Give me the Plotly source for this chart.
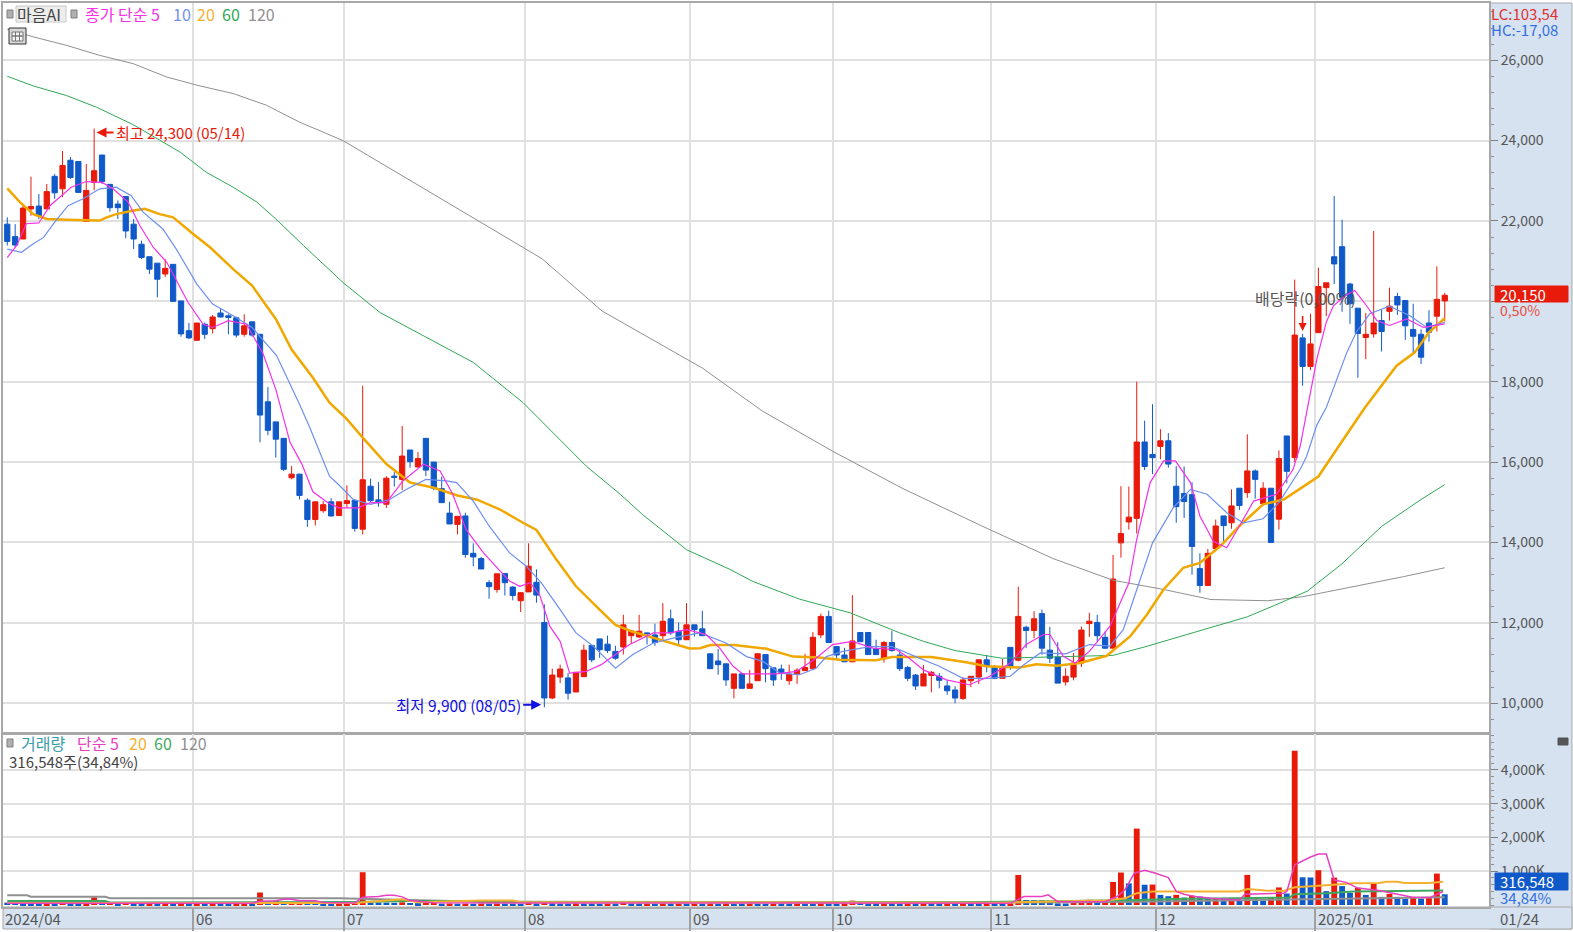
import plotly.graph_objects as go

W, H = 1573, 932
FONT = "Noto Sans CJK KR"
RED = "#E81A0A"
BLUE = "#1059C8"

opens = [21920,21610,21550,22300,22370,22300,23110,22800,23510,23480,
         21990,22960,23640,22910,22420,22610,21920,21420,21110,20950,
         20680,20920,20010,19270,19030,19430,19320,19710,19640,19590,
         19180,19490,19180,17500,17000,16590,15610,15700,15050,14570,
         14790,15010,14670,14970,15050,14330,15400,15060,14950,15650,
         15570,16300,15880,16590,16000,15340,14730,14450,14660,13730,
         13600,13000,12830,13230,12890,12550,12770,13010,12010,10130,
         10650,10630,10280,10660,11440,11600,11470,11290,11400,11680,
         11650,11750,11700,11680,12100,11790,11580,11950,11850,11230,
         11050,10980,10370,10730,10370,10560,11210,10880,10850,10560,
         10720,10810,10860,11700,12160,11410,11200,11030,11760,11760,
         11360,11110,11510,11200,10890,10700,10430,10690,10670,10430,
         10330,10120,10560,10650,11080,10880,10620,11390,11070,11890,
         11810,12230,11320,11150,10530,10650,11000,11980,12010,11640,
         11370,13990,14510,14600,16500,16190,16390,16530,15400,15220,
         15190,13350,12930,13850,14660,14490,15350,15240,15780,14970,
         15350,14580,16650,16110,19090,18380,19220,20340,21110,21360,
         20430,19830,19100,19190,19520,19750,20120,20020,19300,19180,
         19460,19630,20010]
highs = [22090,21920,22420,23100,22670,22920,23170,23740,23590,23480,
         23420,24300,23640,22910,22510,22610,22050,21510,21110,20950,
         21050,20920,20010,19460,19460,19470,19660,19820,19680,19620,
         19680,19490,19180,17870,17000,16590,15900,15710,15100,15010,
         15030,15100,15010,15420,15070,17900,15590,15500,15650,15750,
         16900,16300,16250,16590,16000,15640,15010,14650,14740,13980,
         13640,13060,13220,13230,12910,12760,13980,13330,12460,10860,
         10960,10750,10770,11460,11440,11600,11680,11430,12200,11800,
         12200,11760,11980,12490,12330,12010,12490,11950,12300,11230,
         11350,10980,10730,10760,10830,11250,11210,10880,10960,10960,
         10870,11230,11770,12230,12300,11410,11380,12690,11760,11760,
         11580,11550,11800,11330,10930,10730,10950,10800,10750,10570,
         10420,10650,10670,11080,11200,10950,11100,11390,12900,11930,
         12290,12330,11900,11520,10870,11250,11910,12250,12200,11790,
         13690,15400,15390,18000,17030,17440,16820,16720,15900,15890,
         15500,13730,13840,14570,14660,15320,15350,16690,15820,15500,
         15350,16290,16650,20540,19190,19690,20840,20460,22620,22030,
         20460,19830,19710,21750,19790,20340,20210,20020,19940,19300,
         19780,20870,20210]
lows = [21390,21340,21550,22130,22050,22300,22550,22590,23050,22710,
        21990,22760,22920,22230,22050,21570,21300,21050,20680,20100,
        20600,20000,19120,19060,19030,19060,19200,19600,19180,19100,
        19120,19120,16490,16670,16110,15780,15570,15070,14390,14420,
        14740,14640,14670,14860,14270,14200,14990,14890,14860,15390,
        15300,15860,15860,15650,15300,14990,14460,14200,13620,13410,
        13340,12600,12750,12680,12560,12270,12770,12500,9900,10100,
        10500,10090,10280,10660,11020,11130,11250,11080,11210,11480,
        11620,11460,11430,11540,11700,11450,11580,11660,11680,10860,
        10710,10430,10120,10370,10370,10560,10520,10430,10580,10460,
        10480,10810,10860,11620,11500,11100,11030,11030,11530,11210,
        11210,11010,11280,10800,10550,10330,10430,10270,10370,10210,
        10000,10080,10400,10480,10770,10600,10620,10830,11040,11370,
        11620,11210,11000,10500,10440,10570,10900,11650,11540,11350,
        11370,13620,14320,14220,15800,15700,16070,15860,14490,14610,
        13200,12750,12930,13850,14030,14340,14810,15110,15090,14920,
        13990,14320,15470,16000,17900,18290,19220,19630,20430,19740,
        19440,18100,18560,19100,18750,19520,19660,19040,18690,18440,
        19000,19250,19500]
closes = [21490,21400,22320,22360,22130,22730,22700,23380,23080,22710,
          22760,23250,22980,22330,22330,21750,21550,21090,20800,20550,
          20820,20000,19190,19090,19460,19180,19610,19610,19600,19160,
          19390,19160,17170,16790,16570,15820,15700,15170,14570,15010,
          14940,14660,15010,15040,14350,15560,15040,14990,15600,15620,
          16150,16010,16090,15800,15350,14990,14460,14650,13700,13640,
          13340,12900,13220,13000,12680,12750,13410,12690,10130,10700,
          10850,10250,10770,11320,11080,11330,11310,11120,11950,11800,
          11790,11730,11510,12040,11750,11580,11950,11830,11680,10860,
          10960,10580,10730,10370,10480,11230,10860,10580,10750,10720,
          10820,10890,11640,12160,11510,11200,11030,11550,11530,11210,
          11210,11510,11310,10860,10620,10430,10730,10770,10570,10310,
          10130,10580,10670,11080,10910,10620,10880,10900,12160,11810,
          12100,11370,11120,10500,10670,11000,11820,12040,11680,11370,
          13090,14220,14630,16500,15890,16110,16530,15950,14890,15020,
          13900,12930,13730,14410,14420,14910,14920,15780,15570,15350,
          14000,16090,15770,19160,18380,18940,20370,20460,20930,20100,
          19940,19200,19180,19460,19250,19880,19910,19390,19130,18610,
          19230,20050,20150]

ma5_x = [0,1.2,2.4,4,5.4,6.9,8.1,10,12,13.4,15.3,16.8,18.5,20.2,21.4,22.9,24.8,26,28,30.3,
         32.4,34,35.8,37.3,38.7,40.6,42,44.4,46,48,50.1,52.7,54.8,56.4,58.1,60.3,62.2,63.6,64.9,66.2,
         67.4,68.7,70,71.2,73.3,75.2,77,78.8,81.8,83.9,86,88.5,90.2,91.9,93.1,94.8,97.4,99.9,102.4,104.5,
         107,109.6,112.6,114.2,116,118.9,121.8,124.4,127,129,131.2,132,133.7,135.2,137,139.6,142,143,144.7,146.4,
         147.9,149.8,151,152.7,154.4,156,157.8,160.7,162.8,163.7,164.7,165.8,167,167.9,169.4,170.6,172.1,173.4,175,177.2,
         179.3,182]
ma5 = [21090,21390,21930,21950,22380,22630,22840,22980,22960,22800,22470,21880,21340,20970,20510,19970,19430,19350,19520,19430,
       18690,17810,16490,15950,15260,14990,14860,14860,14990,14990,15530,15950,15780,15200,14320,13740,13330,13040,12910,13000,
       12700,11910,11540,10750,10790,10960,11210,11460,11750,11750,11830,11710,11370,10920,10730,10730,10730,10790,11120,11460,
       11540,11370,11330,11120,10830,10580,10460,10670,11000,11460,11710,11710,11170,11000,11290,11910,12990,14080,15490,16030,
       16030,15490,14660,14030,13870,14410,15030,15200,15820,16400,17400,18560,19480,19890,20140,20270,19890,19520,19400,19560,
       19350,19440]
ma10_x = [0,1.8,3.3,4.6,6,7.7,9.6,11.7,13.8,15.7,17.2,19.7,21.4,24,26,28.6,31,34.1,37,38.3,
          40.8,42.1,43.8,46,48.4,50.5,53,55.6,56.9,59,61,63.6,65.7,67.6,70,72,74.2,77,79.2,81.8,
          84.7,87.7,91,93.6,95.7,97.8,100.3,102.4,103.7,105.8,109.2,112,115,118,121,124.4,127,128.7,130.8,134,
          137,139.6,141.3,143,145,147.6,149.8,151.9,154.4,156.5,159,161,163.7,164.5,165.8,167,168.3,169.6,170.8,172.5,
          175,177.6,179.7,182]
ma10 = [21300,21220,21430,21590,21970,22380,22550,22800,22840,22630,22220,21800,21300,20430,19930,19640,19350,18650,17440,16860,
        15650,15410,15070,14950,15070,15320,15570,15530,15490,15030,14410,13740,13410,13000,12330,11750,11420,10870,11210,11500,
        11640,11750,11500,11160,11040,10750,10710,10870,11160,11290,11410,11410,11160,10920,10620,10620,10670,10960,11250,11230,
        11460,11420,11830,12830,13990,14860,15320,15200,14740,14490,14590,14990,15820,16140,16920,17360,18070,18730,19230,19690,
        19880,19640,19350,19480]
ma20_x = [0,1.6,3.3,5,7.5,11.7,12.6,13.8,16,17.4,19.3,21,23.5,25.7,28.6,31,34,36,38.7,40.8,
          43,45,48,51,54,57,59.4,62.4,65.3,67,69.5,72,75,77,79,81.8,84.3,86.4,87.7,89,
          92,96,99.5,102.8,105.4,110,112,117,121.4,124,128.2,130.3,132.9,135.8,139.2,142.2,144.3,146.4,148.9,151,
          153.6,156,159,161.6,163.7,166,169,171.9,175.9,178.2,180,182]
ma20 = [22810,22470,22170,22050,22030,22010,22090,22170,22260,22300,22170,22090,21680,21340,20800,20390,19560,18800,18100,17480,
        17070,16610,15950,15490,15360,15170,15070,14820,14490,14310,13580,12910,12330,11950,11790,11620,11480,11360,11370,11450,
        11450,11360,11160,11140,11080,11070,11150,11150,11020,10920,10890,10970,10930,11000,11180,11670,12210,12830,13370,13490,
        13910,14410,14950,15070,15340,15640,16520,17360,18400,18730,19230,19580]
ma60_x = [0,3.3,7.5,11.3,16,21.9,25.2,28.6,31.6,34,37.5,42.5,47.2,53.5,59,65.3,69.5,73.3,77.6,80.4,
          86,91.5,94.4,100.3,106.7,113,116,120,125.9,140,144,150,157,160.4,164.6,169,174,179,182]
ma60 = [25600,25360,25120,24830,24390,23710,23210,22840,22470,22050,21390,20470,19720,19060,18480,17480,16650,15900,15200,14700,
        13820,13330,13030,12590,12250,11750,11540,11310,11120,11190,11400,11750,12150,12430,12790,13470,14400,15070,15440]
ma120_x = [0,3.3,7.5,11.7,16,20.2,24.4,28.6,32.8,37,42.5,49.9,60,67.7,75.3,88,95.6,104.5,113.4,123.5,
           132.4,140,146.4,152.4,159.6,164,170.5,176.8,182]
ma120 = [26770,26580,26370,26120,25910,25580,25360,25170,24880,24460,24000,23130,21960,21060,19760,18340,17270,16270,15340,14400,
         13600,13060,12830,12580,12550,12650,12900,13150,13370]

volumes = [70,60,50,45,40,42,38,60,50,48,
           55,230,65,70,40,70,40,35,40,38,
           42,36,38,36,40,36,40,38,36,42,
           44,40,370,90,130,85,90,95,70,60,
           50,45,50,55,70,970,75,72,70,65,
           80,60,55,65,70,40,45,38,42,36,
           40,35,42,38,36,35,120,40,115,50,
           40,38,44,40,36,34,38,36,110,40,
           36,40,34,42,36,40,36,40,34,38,
           34,40,36,34,40,36,34,40,38,36,
           42,38,36,42,38,36,50,130,60,38,
           34,42,36,34,40,36,42,38,34,40,
           36,42,38,34,40,36,34,45,890,150,
           145,140,80,50,45,100,150,155,60,90,
           680,960,640,2260,600,605,300,260,300,220,
           280,250,190,200,190,200,130,890,200,130,
           210,520,340,4560,820,815,1030,410,810,560,
           360,510,300,640,240,330,240,180,240,190,
           220,930,317]

vma5_x = [0,31,32,34,35,36,37,39,40,44,45,47,48,49,50,51,54,65,66,120,127,128.7,131,131.8,133,139,139.5,140.5,141.5,142.7,144,145.4,147,148,149,150.3,152.4,156,156.7,160,161.6,162,163,165,166,167,168,169.5,171,173.7,175.8,177.9,180.1,181.8]
vma5 = [50,50,110,125,170,170,125,125,75,60,230,250,290,290,240,130,65,60,70,50,50,250,250,300,100,100,150,250,445,940,1030,940,810,400,320,250,200,150,320,330,350,400,1190,1420,1510,1510,740,670,500,430,320,230,220,400]
vma20_x = [0,44,50,52,60,64,65,125,139,141.6,143,145,156,157,159.3,161.6,163,165,167,170.4,173.7,174.6,176,176.9,180,181.8]
vma20 = [60,60,168,80,130,130,90,70,130,200,350,400,400,470,430,415,525,545,585,640,650,690,690,650,650,690]
vma60_x = [0,12.4,13,42,44,51,59,60,107,121.5,143.4,147.6,155.5,162.3,163,167.2,170.4,181.8]
vma60 = [118,118,75,75,90,118,118,85,75,80,150,180,200,220,320,350,400,430]
vma120_x = [0,2.5,3,12.4,13,42,60,130,143,163,170,182]
vma120 = [287,287,245,245,198,198,100,75,100,170,200,230]

month_pos = [23.5, 42.6, 65.5, 86.5, 104.5, 124.5, 145.5, 165.6]
month_labels = ["06", "07", "08", "09", "10", "11", "12", "2025/01"]
price_ticks = [10000, 12000, 14000, 16000, 18000, 20000, 22000, 24000, 26000]
price_labels = ["10,000", "12,000", "14,000", "16,000", "18,000", "", "22,000", "24,000", "26,000"]
volume_ticks = [1000, 2000, 3000, 4000]

idx = list(range(len(closes)))
vol_colors = [BLUE] + [RED if volumes[i] > volumes[i - 1] else BLUE for i in idx[1:]]


def px(x):
    return x / W


def py(y):
    return 1 - y / H


def label(text, x, y, color, size=14, anchor="left"):
    return dict(text=text, x=px(x - 2), y=py(y), xref="paper", yref="paper", showarrow=False,
                xanchor=anchor, yanchor="middle", font=dict(family=FONT, size=size, color=color))


def box(x0, y0, x1, y1, fill, line=None, layer="above"):
    return dict(type="rect", xref="paper", yref="paper", x0=px(x0), x1=px(x1), y0=py(y0), y1=py(y1),
                fillcolor=fill, line=dict(color=line or fill, width=1), layer=layer)


fig = go.Figure()
fig.add_trace(go.Candlestick(x=idx, open=opens, high=highs, low=lows, close=closes,
                             increasing=dict(line=dict(color=RED, width=1), fillcolor=RED),
                             decreasing=dict(line=dict(color=BLUE, width=1), fillcolor=BLUE),
                             whiskerwidth=0, showlegend=False, xaxis="x", yaxis="y"))
for xs, ys, color, width in [(ma120_x, ma120, "#909090", 1), (ma60_x, ma60, "#2FA855", 1),
                             (ma20_x, ma20, "#F0A800", 2.5), (ma10_x, ma10, "#6E8FF0", 1.2),
                             (ma5_x, ma5, "#F530E8", 1.2)]:
    fig.add_trace(go.Scatter(x=xs, y=ys, mode="lines", line=dict(color=color, width=width),
                             showlegend=False, xaxis="x", yaxis="y"))

fig.add_trace(go.Bar(x=idx, y=volumes, marker=dict(color=vol_colors, line=dict(width=0)), width=0.74,
                     showlegend=False, xaxis="x2", yaxis="y2"))
for xs, ys, color, width in [(vma120_x, vma120, "#909090", 2), (vma60_x, vma60, "#3FA860", 2),
                             (vma20_x, vma20, "#F5B030", 2), (vma5_x, vma5, "#E840C0", 1.5)]:
    fig.add_trace(go.Scatter(x=xs, y=ys, mode="lines", line=dict(color=color, width=width),
                             showlegend=False, xaxis="x2", yaxis="y2"))

notes = [
    label("마음AI", 41, 14, "#444444", 16, "center"),
    label("종가 단순 5", 85, 14, "#F530E8", 16),
    label("10", 173, 14, "#6E8FF0", 16),
    label("20", 197, 14, "#F5B030", 16),
    label("60", 222, 14, "#2FA855", 16),
    label("120", 248, 14, "#909090", 16),
    label("LC:103,54", 1491, 13, "#E03030", 15),
    label("HC:-17,08", 1491, 29, "#3070E0", 15),
    label("20,150", 1500, 294, "white", 15),
    label("0,50%", 1500, 310, "#E85040", 14),
    label("316,548", 1500, 881, "white", 15),
    label("34,84%", 1500, 897, "#3070E0", 15),
    label("배당락(0,00%)", 1255, 298, "#555555", 16),
    label("거래량", 21, 743, "#3A9CA8", 16),
    label("단순 5", 77, 743, "#E840C0", 16),
    label("20", 129, 743, "#F5B030", 16),
    label("60", 154, 743, "#3FA860", 16),
    label("120", 180, 743, "#909090", 16),
    label("316,548주(34,84%)", 9, 761, "#444444", 15),
    label("2024/04", 5, 918, "#555555", 15),
    label("01/24", 1500, 918, "#555555", 15),
    dict(text="최고 24,300 (05/14)", x=11.3, y=24200, xref="x", yref="y", showarrow=True, arrowhead=2,
         arrowcolor=RED, arrowwidth=2, ax=17, ay=0, xanchor="left",
         font=dict(family=FONT, size=15, color=RED)),
    dict(text="최저 9,900 (08/05)", x=67.6, y=9960, xref="x", yref="y", showarrow=True, arrowhead=2,
         arrowcolor="#1010E0", arrowwidth=2, ax=-18, ay=0, xanchor="right",
         font=dict(family=FONT, size=15.5, color="#1010E0")),
    dict(text=" ", x=164, y=19260, xref="x", yref="y", showarrow=True, arrowhead=2, arrowsize=1,
         arrowcolor=RED, arrowwidth=1.6, ax=0, ay=-25),
]
for pos, text in zip(month_pos, month_labels):
    notes.append(dict(text=text, x=pos, y=py(918), xref="x2", yref="paper", showarrow=False, xanchor="left",
                      yanchor="middle", xshift=1, font=dict(family=FONT, size=15, color="#555555")))

shapes = [
    box(1490, 3, 1572, 929, "#D6E2F0", "#A8A8A8", "below"),
    box(3, 907, 1572, 929, "#D6E2F0", "#A8A8A8", "below"),
    box(1495, 286, 1568, 302, RED),
    box(1495, 873, 1568, 890, BLUE),
    box(16, 6, 66, 22, "#EDEDED", "#C8C8C8", "below"),
    box(7, 10, 13, 18, "#B0B0B0", "#808080"),
    box(71, 10, 77, 18, "#B0B0B0", "#808080"),
    box(7, 739, 13, 747, "#B0B0B0", "#808080"),
    box(9, 28, 26, 44, "#D8D8D8", "#333333"),
    box(12, 32, 23, 41, "#F4F4F4", "#777777"),
    box(15.5, 32, 15.5, 41, "#777777"),
    box(19.5, 32, 19.5, 41, "#777777"),
    box(12, 36, 23, 36, "#777777"),
    box(1558, 738, 1568, 745, "#555555"),
]

fig.update_layout(
    width=W, height=H, margin=dict(l=0, r=0, t=0, b=0), autosize=False,
    paper_bgcolor="white", plot_bgcolor="white", showlegend=False, boxgap=0.05,
    hovermode=False, annotations=notes, shapes=shapes,
    xaxis=dict(domain=[px(3), px(1489)], range=[-0.54, 187.6], anchor="y", rangeslider=dict(visible=False),
               tickmode="array", tickvals=month_pos, showticklabels=False, ticks="",
               showgrid=True, gridcolor="#E0E0E0", gridwidth=1.5, zeroline=False,
               showline=True, linecolor="#A8A8A8", linewidth=2, mirror=True),
    xaxis2=dict(domain=[px(3), px(1489)], range=[-0.54, 187.6], anchor="y2", matches="x",
                tickmode="array", tickvals=month_pos, showticklabels=False, ticks="outside", ticklen=22,
                tickcolor="#A0A0A0", tickwidth=2, showgrid=True, gridcolor="#E0E0E0", gridwidth=1.5,
                zeroline=False, showline=True, linecolor="#A8A8A8", linewidth=2, mirror=True),
    yaxis=dict(domain=[py(733), py(3)], range=[9259, 27423], side="right", anchor="x",
               tickmode="array", tickvals=price_ticks, ticktext=price_labels, ticks="outside", ticklen=7,
               tickcolor="#808080", tickfont=dict(family=FONT, size=14, color="#555555"),
               gridcolor="#E0E0E0", gridwidth=1.5, zeroline=False, showline=True, linecolor="#A8A8A8",
               linewidth=2, mirror=True,
               minor=dict(tickmode="linear", tick0=10000, dtick=400, ticks="outside", ticklen=3,
                          tickcolor="#909090", showgrid=False)),
    yaxis2=dict(domain=[py(907), py(734)], range=[-59, 5059], side="right", anchor="x2",
                tickmode="array", tickvals=volume_ticks, ticktext=[f"{v:,}K" for v in volume_ticks],
                ticks="outside", ticklen=7, tickcolor="#808080",
                tickfont=dict(family=FONT, size=14, color="#555555"),
                gridcolor="#E0E0E0", gridwidth=1.5, zeroline=False, showline=True, linecolor="#A8A8A8",
                linewidth=2, mirror=True,
                minor=dict(tickmode="linear", tick0=0, dtick=200, ticks="outside", ticklen=3,
                           tickcolor="#909090", showgrid=False)),
)

fig.write_html("out.html", config={"displayModeBar": False},
               post_script="document.body.style.margin='0';document.body.style.overflow='hidden';")
